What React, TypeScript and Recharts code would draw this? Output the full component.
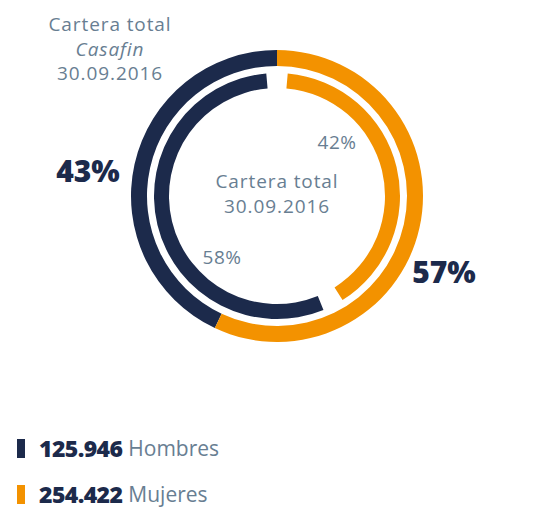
import { PieChart, Pie, Cell } from "recharts";

// Portfolio split by gender, 30.09.2016
const CATEGORIES = ["Hombres", "Mujeres"];
const COUNTS = [125946, 254422];
// outer ring: Casafin portfolio (Hombres, Mujeres)
const CASAFIN_SHARE = [43, 57];
// inner ring: total portfolio, drawn clockwise from the top (Mujeres, Hombres)
const TOTAL_SHARE = [42, 58];

const NAVY = "#1c2a4b";
const ORANGE = "#f39200";
const GREY = "#687e92";
const FONT = "'Open Sans', sans-serif";

const COLOURS: Record<string, string> = { Hombres: NAVY, Mujeres: ORANGE };

const outerData = CATEGORIES.map((name, i) => ({ name, value: CASAFIN_SHARE[i] }));
const innerData = [
  { name: "Mujeres", value: TOTAL_SHARE[0] },
  { name: "Hombres", value: TOTAL_SHARE[1] },
];

const fmt = (n: number) => String(n).replace(/\B(?=(\d{3})+(?!\d))/g, ".");

function LegendBox() {
  return (
    <div style={{ position: "absolute", left: 17, top: 425, fontFamily: FONT }}>
      {CATEGORIES.map((c, i) => (
        <div key={c} style={{ display: "flex", alignItems: "center", height: 46 }}>
          <span style={{ width: 8, height: 19, background: COLOURS[c], marginRight: 14 }} />
          <span style={{ color: NAVY, fontWeight: 800, fontSize: 23, letterSpacing: -0.6 }}>
            {fmt(COUNTS[i])}
          </span>
          <span style={{ color: GREY, fontSize: 21, marginLeft: 6 }}>{c}</span>
        </div>
      ))}
    </div>
  );
}

export default function App() {
  const cx = 277;
  const cy = 196;
  const label = { textAnchor: "middle" as const, fill: GREY, fontSize: 19, letterSpacing: 0.9 };
  return (
    <div style={{ position: "absolute", left: 0, top: 0, width: 538, height: 509, background: "#fff" }}>
      <PieChart width={538} height={509} margin={{ top: 0, right: 0, bottom: 0, left: 0 }}>
        <Pie
          data={outerData}
          dataKey="value"
          cx={cx}
          cy={cy}
          innerRadius={130}
          outerRadius={146}
          startAngle={90}
          endAngle={450}
          stroke="none"
          isAnimationActive={false}
        >
          {outerData.map((d) => (
            <Cell key={d.name} fill={COLOURS[d.name]} />
          ))}
        </Pie>
        <Pie
          data={innerData}
          dataKey="value"
          cx={cx}
          cy={cy}
          innerRadius={108}
          outerRadius={123}
          startAngle={85}
          endAngle={-275}
          paddingAngle={10}
          stroke="none"
          isAnimationActive={false}
        >
          {innerData.map((d) => (
            <Cell key={d.name} fill={COLOURS[d.name]} />
          ))}
        </Pie>
        <g fontFamily={FONT}>
          <text x={110} y={31} {...label}>Cartera total</text>
          <text x={110} y={56} {...label} fontStyle="italic">Casafin</text>
          <text x={110} y={80} {...label}>30.09.2016</text>
          <text x={cx} y={188} {...label}>Cartera total</text>
          <text x={cx} y={213} {...label}>30.09.2016</text>
          <text x={337} y={149} {...label} letterSpacing={0.5}>{TOTAL_SHARE[0]}%</text>
          <text x={222} y={264} {...label} letterSpacing={0.5}>{TOTAL_SHARE[1]}%</text>
          <text x={88} y={182} textAnchor="middle" fill={NAVY} fontSize={30} fontWeight={800}>{CASAFIN_SHARE[0]}%</text>
          <text x={444} y={283} textAnchor="middle" fill={NAVY} fontSize={30} fontWeight={800}>{CASAFIN_SHARE[1]}%</text>
        </g>
      </PieChart>
      <LegendBox />
    </div>
  );
}
